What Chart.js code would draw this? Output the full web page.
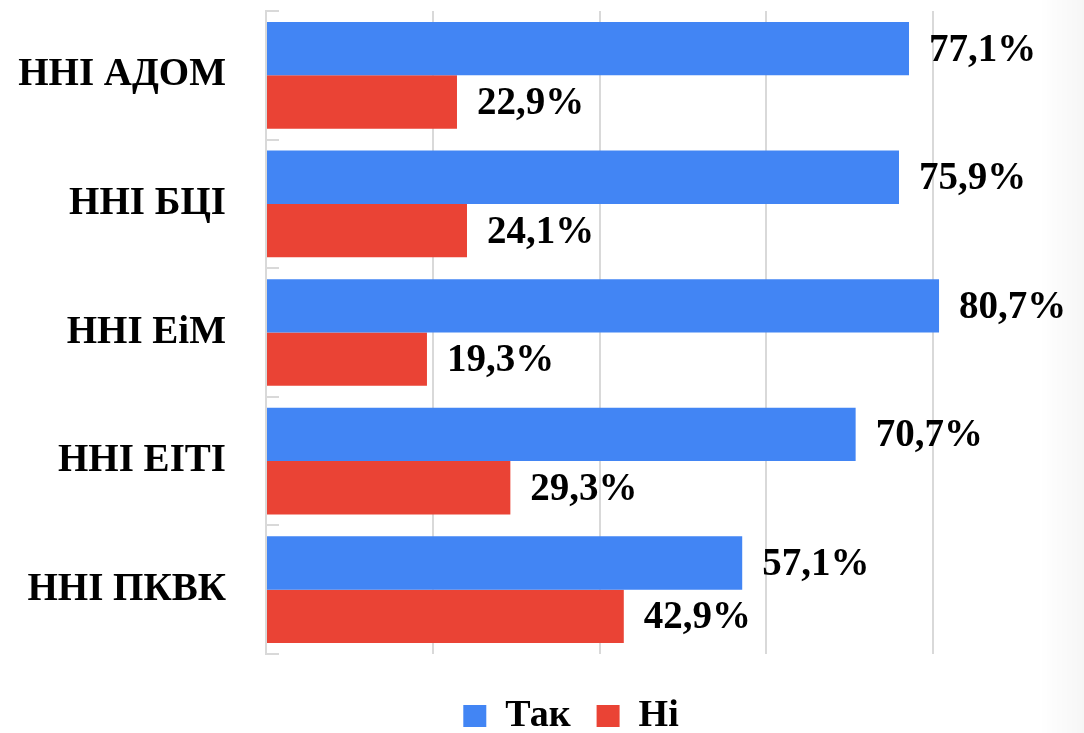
<!DOCTYPE html>
<html>
<head>
<meta charset="utf-8">
<script src="https://cdn.jsdelivr.net/npm/chart.js@4.4.0/dist/chart.umd.min.js"></script>
<style>
  html, body { margin: 0; padding: 0; background: #fff; overflow: hidden; }
  #wrap { position: relative; width: 1142px; height: 745px; }
  #shade {
    position: absolute; left: 0; top: 0; width: 1084px; height: 733px; pointer-events: none;
    background: linear-gradient(to right, rgba(0,0,0,0) 1040px, rgba(0,0,0,0.035) 1084px);
  }
</style>
</head>
<body>
<div id="wrap"><canvas id="chart"></canvas></div>
<div id="shade"></div>
<script>
// Survey answers by institute (percent)
const categories = ['ННІ АДОМ', 'ННІ БЦІ', 'ННІ ЕіМ', 'ННІ ЕІТІ', 'ННІ ПКВК'];
const yesValues = [77.1, 75.9, 80.7, 70.7, 57.1];
const noValues = [22.9, 24.1, 19.3, 29.3, 42.9];
const seriesNames = ['Так', 'Ні'];

const FONT = '"Liberation Serif", "Times New Roman", serif';

// Draw value labels to the right of each bar
const valueLabels = {
  id: 'valueLabels',
  afterDatasetsDraw(chart) {
    const ctx = chart.ctx;
    ctx.save();
    ctx.font = 'bold 39px ' + FONT;
    ctx.fillStyle = '#000';
    ctx.textBaseline = 'middle';
    ctx.textAlign = 'left';
    chart.data.datasets.forEach((ds, i) => {
      chart.getDatasetMeta(i).data.forEach((bar, j) => {
        const txt = ds.data[j].toFixed(1).replace('.', ',') + '%';
        ctx.fillText(txt, bar.x + 20, bar.y + 2);
      });
    });
    ctx.restore();
  }
};

new Chart(document.getElementById('chart'), {
  type: 'bar',
  data: {
    labels: categories,
    datasets: [
      {
        label: seriesNames[0],
        data: yesValues,
        backgroundColor: '#4285F4',
        categoryPercentage: 0.83,
        barPercentage: 1.0
      },
      {
        label: seriesNames[1],
        data: noValues,
        backgroundColor: '#EA4335',
        categoryPercentage: 0.83,
        barPercentage: 1.0
      }
    ]
  },
  options: {
    indexAxis: 'y',
    responsive: true,
    maintainAspectRatio: false,
    animation: false,
    layout: { padding: { top: 11, right: 0, left: 0, bottom: 0 } },
    scales: {
      x: {
        min: 0,
        max: 100,
        ticks: { display: false, stepSize: 20 },
        grid: { color: '#d9d9d9', lineWidth: 2, drawTicks: false },
        border: { display: false },
        afterFit(scale) { scale.height = 17; }
      },
      y: {
        ticks: {
          color: '#000',
          font: { family: FONT, size: 39, weight: 'bold' },
          padding: 53
        },
        grid: { drawOnChartArea: false, color: '#d9d9d9', tickLength: -13, lineWidth: 2 },
        border: { color: '#d9d9d9', width: 2 },
        afterFit(scale) {
          scale.width = 266;
          scale.paddingTop = 0;
          scale.paddingBottom = 0;
        }
      },
      // empty right-hand axis, only reserves space so the legend sits centred like the original
      yRight: {
        position: 'right',
        ticks: { display: false },
        grid: { display: false },
        border: { display: false },
        afterFit(scale) {
          scale.width = 42;
          scale.paddingTop = 0;
          scale.paddingBottom = 0;
        }
      }
    },
    plugins: {
      legend: {
        position: 'bottom',
        labels: {
          color: '#000',
          font: { family: FONT, size: 38, weight: 'bold' },
          boxWidth: 23,
          boxHeight: 22,
          padding: 26
        }
      },
      tooltip: { enabled: false }
    }
  },
  plugins: [valueLabels]
});
</script>
</body>
</html>
